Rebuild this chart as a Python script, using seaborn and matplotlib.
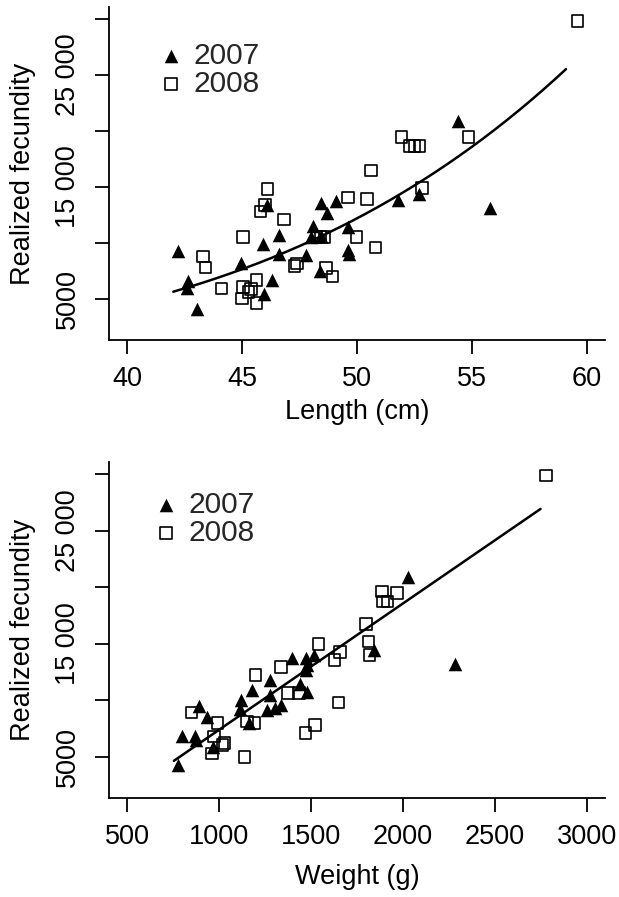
import numpy as np
import pandas as pd
import matplotlib
matplotlib.use("Agg")
import matplotlib.pyplot as plt
import seaborn as sns

# ---------------- data ----------------
len07 = [42.2, 42.65, 42.6, 43.05, 44.95, 45.9, 45.95, 46.1, 46.3, 46.6, 46.6, 47.8, 48.1,
         48.0, 48.45, 48.4, 48.45, 48.7, 49.1, 49.6, 49.6, 49.65, 51.8, 52.7, 54.4, 55.8]
fec07_len = [9250, 6600, 5950, 4100, 8250, 9900, 5500, 13400, 6700, 10750, 9000, 8900, 11500,
             10500, 10600, 7500, 13550, 12700, 13800, 11450, 9400, 9050, 13870, 14350, 20860, 13120]

len08 = [43.3, 43.4, 44.1, 45.03, 45.03, 45.0, 45.28, 45.38, 45.62, 45.62, 45.8, 46.0, 46.1,
         46.81, 47.28, 47.38, 48.41, 48.59, 48.66, 48.93, 49.62, 49.97, 50.43, 50.6, 50.81,
         51.93, 52.28, 52.5, 52.72, 52.84, 54.86, 59.6]
fec08_len = [8800, 7830, 5950, 10560, 6100, 5050, 5620, 5890, 6680, 4640, 12830, 13380, 14820,
             12100, 7950, 8170, 10560, 10560, 7770, 7020, 14080, 10540, 13930, 16490, 9610,
             19460, 18650, 18650, 18650, 14910, 19460, 29800]

wt07 = [775, 795, 870, 876, 890, 935, 968, 1116, 1112, 1180, 1162, 1275, 1279, 1261, 1306,
        1335, 1397, 1438, 1478, 1474, 1478, 1474, 1514, 1842, 2025, 2281]
fec07_wt = [4270, 6800, 6830, 6470, 9490, 8550, 5880, 10020, 9200, 10900, 8000, 11790, 10500,
            9130, 9300, 9570, 13700, 11450, 10750, 13750, 13150, 12660, 14000, 14440, 20880, 13210]

wt08 = [850, 962, 972, 990, 1017, 1029, 1138, 1152, 1192, 1198, 1337, 1373, 1433, 1469, 1523,
        1541, 1628, 1659, 1650, 1800, 1813, 1818, 1885, 1891, 1916, 1967, 2779]
fec08_wt = [8900, 5300, 6800, 8010, 6040, 6190, 5000, 8100, 7960, 12230, 12910, 10660, 10660,
            7120, 7800, 14970, 13550, 14290, 9810, 16720, 15180, 14000, 19600, 18720, 18720,
            19510, 29860]

year_labels = ["2007", "2008"]
len_ticks = [40, 45, 50, 55, 60]
wt_ticks = [500, 1000, 1500, 2000, 2500, 3000]
fec_ticks = [5000, 10000, 15000, 20000, 25000, 30000]
fec_ticklabels = ["5000", "", "15 000", "", "25 000", ""]
len_curve_range = (42.0, 59.1)
wt_curve_range = (753, 2749)

# ---------------- style ----------------
sns.set_theme(style="white")
plt.rcParams["font.family"] = ["Liberation Sans", "DejaVu Sans"]
FS = 19.5

fig = plt.figure(figsize=(6.19, 8.97), dpi=100)
W, H = 619, 897


def add_ax(left, right, top, bottom):
    return fig.add_axes([left / W, 1 - bottom / H, (right - left) / W, (bottom - top) / H])


ax1 = add_ax(109, 605, 7, 340)
ax2 = add_ax(109, 605, 462, 798)


def draw_points(ax, x07, y07, x08, y08):
    sns.scatterplot(x=x07, y=y07, marker="^", color="black", s=95, linewidth=0,
                    ax=ax, label=year_labels[0], zorder=3)
    sns.scatterplot(x=x08, y=y08, marker="s", color="black", facecolor="none",
                    edgecolor="black", s=70, linewidth=1.2, ax=ax, label=year_labels[1], zorder=3)


# top panel: power-law fit (log-log least squares)
draw_points(ax1, len07, fec07_len, len08, fec08_len)
L_all = np.array(len07 + len08, dtype=float)
F_all = np.array(fec07_len + fec08_len, dtype=float)
xc = np.linspace(*len_curve_range, 200)
p1, q1 = np.polyfit(np.log(L_all), np.log(F_all), 1)
sns.lineplot(x=xc, y=np.exp(q1 + p1 * np.log(xc)), color="black", linewidth=1.8, ax=ax1, zorder=2)

# bottom panel: weighted linear fit
draw_points(ax2, wt07, fec07_wt, wt08, fec08_wt)
Wt_all = np.array(wt07 + wt08, dtype=float)
Fw_all = np.array(fec07_wt + fec08_wt, dtype=float)
xw = np.linspace(*wt_curve_range, 200)
b2, a2 = np.polyfit(Wt_all, Fw_all, 1, w=np.sqrt(Fw_all))
sns.lineplot(x=xw, y=a2 + b2 * xw, color="black", linewidth=1.8, ax=ax2, zorder=2)

ax1.set_xlim(39.2, 60.8)
ax2.set_xlim(400, 3100)
for ax in (ax1, ax2):
    ax.set_ylim(1350, 31070)
    ax.set_yticks(fec_ticks)
    ax.set_yticklabels(fec_ticklabels, rotation=90, va="center")
    sns.despine(ax=ax)
    for sp in ("left", "bottom"):
        ax.spines[sp].set_color("black")
        ax.spines[sp].set_linewidth(1.3)
    ax.tick_params(axis="both", which="major", direction="out", length=10, width=1.3,
                   color="black", labelsize=FS, labelcolor="black", left=True, bottom=True)
    ax.tick_params(axis="y", pad=10)
    ax.tick_params(axis="x", pad=9)
    ax.set_ylabel("Realized fecundity", fontsize=FS, color="black", va="center")
    ax.yaxis.set_label_coords(-0.174, 0.5)
    ax.grid(False)
    ax.set_facecolor("white")

ax1.legend(loc="upper left", bbox_to_anchor=(0.095, 0.895), frameon=False,
           fontsize=FS + 2, handletextpad=0.25, labelspacing=0.0,
           borderaxespad=0, handlelength=1.0, borderpad=0)
ax2.legend(loc="upper left", bbox_to_anchor=(0.085, 0.915), frameon=False,
           fontsize=FS + 2, handletextpad=0.25, labelspacing=0.0,
           borderaxespad=0, handlelength=1.0, borderpad=0)

ax1.set_xticks(len_ticks)
ax1.set_xticklabels([str(t) for t in len_ticks])
ax1.set_xlabel("Length (cm)", fontsize=FS, color="black")
ax1.xaxis.set_label_coords(0.5, -0.216)
ax1.xaxis.label.set_va("center")

ax2.set_xticks(wt_ticks)
ax2.set_xticklabels([str(t) for t in wt_ticks])
ax2.set_xlabel("Weight (g)", fontsize=FS, color="black")
ax2.xaxis.set_label_coords(0.5, -0.235)
ax2.xaxis.label.set_va("center")

fig.savefig("out.png", dpi=100, facecolor="white")
